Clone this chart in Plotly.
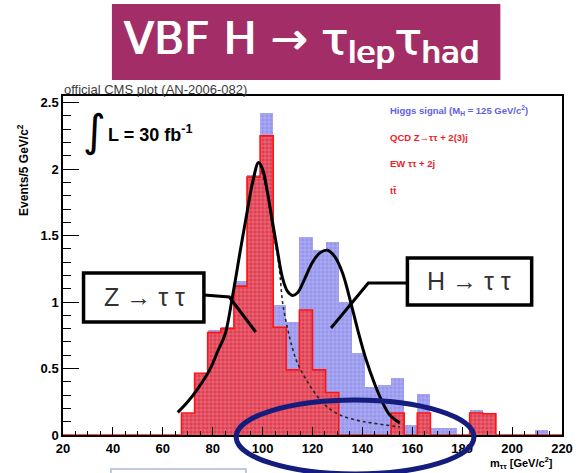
import numpy as np
import plotly.graph_objects as go

# ---- histogram data (events per bin) ----
bin_lo = 67.5
bin_width = 5.25
# stacked backgrounds: QCD Z->tautau + 2(3)j, EW tautau + 2j, ttbar
background = [0.165, 0.465, 0.77, 0.80, 1.12, 1.94, 2.25, 0.81, 0.49, 0.94,
              0.49, 0.32, 0.0, 0.0, 0.0, 0.0, 0.165, 0.0, 0.165, 0.0,
              0.0, 0.0, 0.165, 0.16, 0.0, 0.0, 0.0, 0.0]
# Higgs signal (M_H = 125 GeV/c^2), stacked on top
signal = [0.0, 0.0, 0.02, 0.015, 0.04, 0.015, 0.17, 0.17, 0.36, 0.55,
          0.90, 1.13, 1.00, 0.62, 0.36, 0.375, 0.265, 0.075, 0.145, 0.05,
          0.05, 0.0, 0.025, 0.005, 0.0, 0.0, 0.0, 0.035]

# combined fit (Z peak + Higgs peak)
fit_x = [66, 70, 73.7, 78.8, 82, 85, 88, 91, 94, 96, 98.4, 100, 102, 104, 106,
         108, 110, 112, 114, 117, 120, 123, 126, 129, 132, 135.3, 138, 141.6,
         145, 148.2, 151, 155]
fit_y = [0.17, 0.25, 0.34, 0.49, 0.63, 0.76, 1.05, 1.38, 1.70, 1.90, 2.05, 2.0,
         1.82, 1.60, 1.38, 1.18, 1.08, 1.05, 1.07, 1.18, 1.30, 1.37, 1.39, 1.34,
         1.22, 1.00, 0.80, 0.56, 0.38, 0.24, 0.15, 0.09]
# Z component of the fit
zfit_x = [99, 102, 104, 106, 107, 108, 110, 112, 114, 118, 122, 126, 131, 138,
          144, 155]
zfit_y = [2.03, 1.80, 1.55, 1.35, 1.20, 1.00, 0.80, 0.65, 0.54, 0.40, 0.29,
          0.21, 0.15, 0.11, 0.09, 0.06]

x_min, x_max = 20, 220
y_max = 2.55

# ---- derived geometry ----
n = len(background)
edges = bin_lo + bin_width * np.arange(n + 1)
centers = edges[:-1] + bin_width / 2
bkg = np.array(background)

W, H = 578, 473
ML, MR, MT, MB = 63, 5, 96, 38
PW, PH = W - ML - MR, H - MT - MB


def px(x):
    return (x - ML) / PW


def py(y):
    return (H - MB - y) / PH


RED = "rgb(226,62,82)"
BLUE = "rgb(150,150,238)"
hatch = dict(shape="+", fgcolor="white", fgopacity=0.45,
             size=4, solidity=0.22, fillmode="overlay")

fig = go.Figure()

fig.add_trace(go.Bar(
    x=centers, y=bkg, width=bin_width,
    marker=dict(color=RED, line=dict(width=0), pattern=hatch),
    showlegend=False))
fig.add_trace(go.Bar(
    x=centers, y=signal, width=bin_width,
    marker=dict(color=BLUE, line=dict(width=0), pattern=hatch),
    showlegend=False))

# red step outline of the background histogram, running along the whole axis
step_x = [x_min] + list(edges) + [x_max]
step_y = [0] + list(bkg) + [0, 0]
fig.add_trace(go.Scatter(x=step_x, y=step_y, mode="lines",
                         line=dict(color="rgb(255,20,20)", width=1.6, shape="hv"),
                         showlegend=False, hoverinfo="skip"))

fig.add_trace(go.Scatter(x=zfit_x, y=zfit_y, mode="lines",
                         line=dict(color="rgb(40,40,40)", width=1.6, dash="dot",
                                   shape="spline"),
                         showlegend=False))
fig.add_trace(go.Scatter(x=fit_x, y=fit_y, mode="lines",
                         line=dict(color="black", width=3, shape="spline"),
                         showlegend=False))

tickfont = dict(family="Liberation Sans, Arial, sans-serif", size=13,
                color="black", weight="bold")

fig.update_layout(
    width=W, height=H,
    margin=dict(l=ML, r=MR, t=MT, b=MB),
    paper_bgcolor="white", plot_bgcolor="white",
    barmode="stack", bargap=0,
    xaxis=dict(range=[x_min, x_max], dtick=20, tick0=20,
               ticks="inside", ticklen=8, tickwidth=1.2, tickcolor="black",
               minor=dict(dtick=5, ticks="inside", ticklen=4,
                          tickcolor="black", tickwidth=1),
               showline=True, linecolor="black", linewidth=1.5, mirror=True,
               showgrid=False, zeroline=False, tickfont=tickfont,
               ticklabelstandoff=1, ticklabeloverflow="allow"),
    yaxis=dict(range=[0, y_max], dtick=0.5, tick0=0,
               ticks="inside", ticklen=16, tickwidth=1.2, tickcolor="black",
               minor=dict(dtick=0.1, ticks="inside", ticklen=8,
                          tickcolor="black", tickwidth=1),
               showline=True, linecolor="black", linewidth=1.5, mirror=True,
               showgrid=False, zeroline=False, tickfont=tickfont),
)

shapes = []
# title banner
shapes.append(dict(type="rect", xref="paper", yref="paper",
                   x0=px(113), x1=px(510), y0=py(80), y1=py(4),
                   fillcolor="rgb(163,45,103)", line=dict(width=0), layer="below"))
# Z -> tau tau label box and pointer
shapes.append(dict(type="rect", xref="paper", yref="paper",
                   x0=px(84), x1=px(207), y0=py(322), y1=py(273),
                   fillcolor="white", line=dict(color="black", width=3.5)))
shapes.append(dict(type="path", xref="paper", yref="paper",
                   path=f"M {px(207)},{py(295)} L {px(233)},{py(297)} L {px(260)},{py(332)}",
                   line=dict(color="black", width=3)))
# H -> tau tau label box and pointer
shapes.append(dict(type="rect", xref="paper", yref="paper",
                   x0=px(415), x1=px(542), y0=py(305), y1=py(258),
                   fillcolor="white", line=dict(color="black", width=3.5)))
shapes.append(dict(type="path", xref="paper", yref="paper",
                   path=f"M {px(415)},{py(283)} L {px(375)},{py(283)} L {px(337)},{py(328)}",
                   line=dict(color="black", width=3)))
# highlighted mass window
shapes.append(dict(type="circle", xref="paper", yref="paper",
                   x0=px(240), x1=px(483), y0=py(474), y1=py(400),
                   line=dict(color="rgb(20,28,125)", width=5)))
# partial box at the bottom
shapes.append(dict(type="rect", xref="paper", yref="paper",
                   x0=px(112), x1=px(250), y0=py(480), y1=py(469),
                   line=dict(color="rgb(175,185,215)", width=1.5)))

ann = []
ann.append(dict(text="VBF H \u2192 \u03c4<sub>lep</sub>\u03c4<sub>had</sub>",
                x=px(123), y=py(42), xref="paper", yref="paper",
                xanchor="left", yanchor="middle", showarrow=False,
                font=dict(family="DejaVu Sans, sans-serif", size=44, color="white",
                          shadow="0.7px 0 0 white, -0.7px 0 0 white")))
ann.append(dict(text="official CMS plot (AN-2006-082)",
                x=px(62), y=py(89), xref="paper", yref="paper",
                xanchor="left", yanchor="middle", showarrow=False,
                font=dict(family="Liberation Sans, Arial, sans-serif", size=13,
                          color="rgb(60,60,60)")))
ann.append(dict(text="\u222b", x=px(95), y=py(130), xref="paper", yref="paper",
                xanchor="center", yanchor="middle", showarrow=False,
                font=dict(family="DejaVu Sans, sans-serif", size=44, color="black")))
ann.append(dict(text="<b>L = 30 fb<sup>-1</sup></b>", x=px(107), y=py(133),
                xref="paper", yref="paper", xanchor="left", yanchor="middle",
                showarrow=False,
                font=dict(family="Liberation Sans, Arial, sans-serif", size=18,
                          color="black")))
leg_font = dict(family="Liberation Sans, Arial, sans-serif", size=9.5, weight="bold")
ann.append(dict(text="Higgs signal (M<sub>H</sub> = 125 GeV/c<sup>2</sup>)",
                x=px(395), y=py(110), xref="paper", yref="paper",
                xanchor="left", yanchor="middle", showarrow=False,
                font=dict(leg_font, color="rgb(95,95,225)")))
ann.append(dict(text="QCD Z\u2192\u03c4\u03c4 + 2(3)j",
                x=px(395), y=py(137), xref="paper", yref="paper",
                xanchor="left", yanchor="middle", showarrow=False,
                font=dict(leg_font, color="rgb(235,30,40)")))
ann.append(dict(text="EW \u03c4\u03c4 + 2j",
                x=px(395), y=py(163), xref="paper", yref="paper",
                xanchor="left", yanchor="middle", showarrow=False,
                font=dict(leg_font, color="rgb(235,30,40)")))
ann.append(dict(text="tt\u0304",
                x=px(395), y=py(190), xref="paper", yref="paper",
                xanchor="left", yanchor="middle", showarrow=False,
                font=dict(leg_font, color="rgb(235,30,40)")))
box_font = dict(family="Liberation Sans, Arial, sans-serif", size=25,
                color="rgb(50,50,50)")
ann.append(dict(text="Z \u2192 \u03c4 \u03c4", x=px(146), y=py(297),
                xref="paper", yref="paper", xanchor="center", yanchor="middle",
                showarrow=False, font=box_font))
ann.append(dict(text="H \u2192 \u03c4 \u03c4", x=px(478), y=py(281),
                xref="paper", yref="paper", xanchor="center", yanchor="middle",
                showarrow=False, font=box_font))
ann.append(dict(text="Events/5 GeV/c<sup>2</sup>", x=px(22), y=py(170),
                xref="paper", yref="paper", xanchor="center", yanchor="middle",
                textangle=-90, showarrow=False,
                font=dict(family="Liberation Sans, Arial, sans-serif", size=12,
                          color="black", weight="bold")))
ann.append(dict(text="m<sub>\u03c4\u03c4</sub> [GeV/c<sup>2</sup>]", x=px(566), y=py(463),
                xref="paper", yref="paper", xanchor="right", yanchor="middle",
                showarrow=False,
                font=dict(family="Liberation Sans, Arial, sans-serif", size=11,
                          color="black", weight="bold")))

fig.update_layout(shapes=shapes, annotations=ann)

fig.write_html("out.html")
